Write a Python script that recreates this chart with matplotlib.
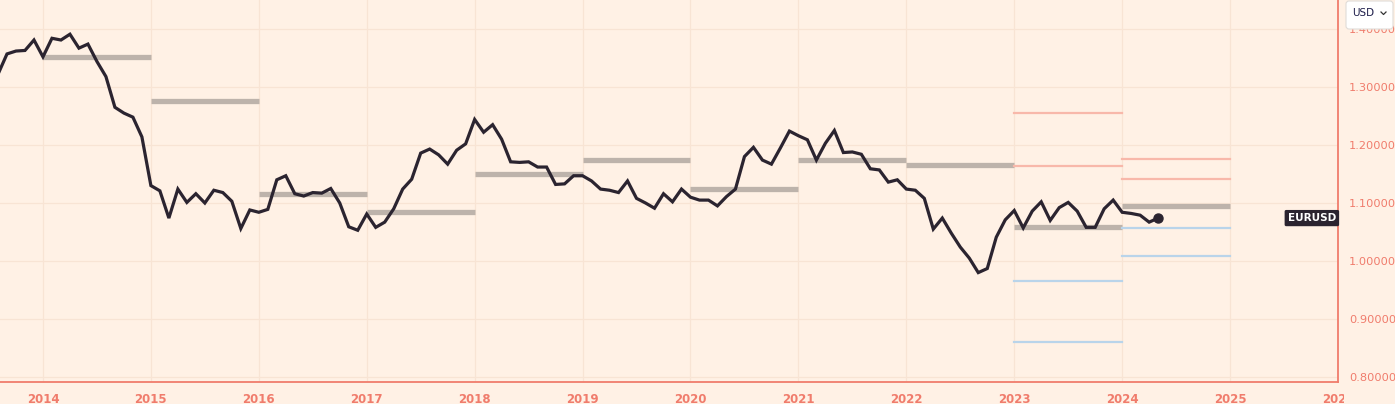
import matplotlib
matplotlib.use("Agg")
from matplotlib import pyplot as plt
from matplotlib.patches import FancyBboxPatch, Rectangle
from matplotlib.lines import Line2D
import numpy as np
import pandas as pd

#monthly EURUSD closes, Aug 2013 .. May 2024
start_month = "2013-08"
closes = [
	1.322, 1.357, 1.362, 1.363, 1.381,
	1.352, 1.384, 1.381, 1.391, 1.367, 1.374, 1.344, 1.318, 1.265, 1.255, 1.248, 1.214,
	1.130, 1.121, 1.074, 1.124, 1.101, 1.116, 1.100, 1.122, 1.118, 1.103, 1.056, 1.088,
	1.084, 1.089, 1.140, 1.147, 1.116, 1.112, 1.118, 1.117, 1.125, 1.100, 1.059, 1.053,
	1.081, 1.058, 1.067, 1.090, 1.124, 1.141, 1.186, 1.193, 1.183, 1.167, 1.191, 1.202,
	1.244, 1.222, 1.235, 1.210, 1.171, 1.170, 1.171, 1.162, 1.162, 1.132, 1.133, 1.147,
	1.147, 1.138, 1.124, 1.122, 1.118, 1.138, 1.108, 1.100, 1.091, 1.116, 1.102, 1.124,
	1.110, 1.105, 1.105, 1.095, 1.111, 1.124, 1.180, 1.196, 1.174, 1.167, 1.195, 1.224,
	1.216, 1.209, 1.174, 1.203, 1.225, 1.187, 1.188, 1.184, 1.159, 1.157, 1.136, 1.140,
	1.124, 1.122, 1.108, 1.055, 1.074, 1.048, 1.024, 1.005, 0.980, 0.987, 1.041, 1.071,
	1.087, 1.057, 1.086, 1.102, 1.070, 1.092, 1.101, 1.086, 1.058, 1.058, 1.090, 1.105,
	1.084, 1.082, 1.079, 1.067, 1.074
]

#yearly open levels (gray bars)
bar_years = [2014, 2015, 2016, 2017, 2018, 2019, 2020, 2021, 2022, 2023, 2024]
bar_levels = [1.352, 1.276, 1.116, 1.084, 1.150, 1.175, 1.124, 1.174, 1.166, 1.058, 1.094]

#upper / lower bands for the last two years
band_years = [2023, 2024]
upper_outer = [1.256, 1.176]
upper_inner = [1.164, 1.141]
lower_inner = [0.966, 1.057]
lower_outer = [0.860, 1.009]

year_ticks = list(range(2014, 2027))
price_ticks = [0.8, 0.9, 1.0, 1.1, 1.2, 1.3, 1.4]

bg = "#fff1e5"
salmon = "#f07c6c"
grid_c = "#f8e4d4"
line_c = "#2b2430"

months = pd.period_range(start_month, periods=len(closes), freq="M")
x = np.array([m.year + (m.month - 1) / 12 for m in months])

fig = plt.figure(figsize=(13.95, 4.04), dpi=100, facecolor=bg)
ax = fig.add_axes([0, 22 / 404, 1338 / 1395, 382 / 404])
ax.set_facecolor(bg)

for yr, lv in zip(bar_years, bar_levels):
	ax.plot([yr, yr + 1], [lv, lv], color="#bdb3ab", lw=3.8, solid_capstyle="butt", zorder=2)
for i, yr in enumerate(band_years):
	for lv in (upper_outer[i], upper_inner[i]):
		ax.plot([yr, yr + 1], [lv, lv], color="#f8b8aa", lw=1.6, zorder=2)
	for lv in (lower_inner[i], lower_outer[i]):
		ax.plot([yr, yr + 1], [lv, lv], color="#b9d4ea", lw=1.6, zorder=2)

ax.plot(x, closes, color=line_c, lw=2.3, zorder=3, solid_joinstyle="miter")
ax.plot(x[-1], closes[-1], "o", color=line_c, ms=6.5, zorder=4)

ax.set_xlim(2014 - 43 / 108, 2014 + 1295 / 108)
ax.set_ylim(0.8 - 5 / 580, 1.3 + 87 / 580)
ax.set_xticks(year_ticks)
ax.set_xticklabels([str(y) for y in year_ticks])
ax.set_yticks(price_ticks)
ax.set_yticklabels(["{:.5f}".format(p) for p in price_ticks])
ax.yaxis.tick_right()
ax.tick_params(axis="both", length=0, colors=salmon)
ax.tick_params(axis="x", pad=8, labelsize=8.5)
ax.tick_params(axis="y", pad=8, labelsize=8.2)
for lab in ax.get_xticklabels():
	lab.set_fontweight("bold")
ax.grid(True, color=grid_c, lw=0.9)
for s in ("top", "left"):
	ax.spines[s].set_visible(False)
for s in ("bottom", "right"):
	ax.spines[s].set_color(salmon)
	ax.spines[s].set_linewidth(1.3)

#the 2026 label is cut off at the axis edge
clip = Rectangle((0, 0), 1344, 404, transform=None)
ax.get_xticklabels()[-1].set_clip_path(clip)

ax.text(0.9985, closes[-1], "EURUSD", transform=ax.get_yaxis_transform(), ha="right", va="center",
		color="white", fontsize=7.5, fontweight="bold", zorder=5,
		bbox=dict(boxstyle="round,pad=0.3,rounding_size=0.15", fc=line_c, ec="none"))

#currency selector, covering most of the top price label
fig.patches.append(FancyBboxPatch((1346, 375), 47, 28, boxstyle="round,pad=0,rounding_size=3",
		transform=None, fc="white", ec="#e0dcd8", lw=0.8, zorder=10))
fig.text(1352 / 1395, 1 - 13 / 404, "USD", color="#1d1d4a", fontsize=7.5, va="center", zorder=11)
fig.lines.append(Line2D([1381, 1383.5, 1386], [392, 389.5, 392], transform=None, color="#333", lw=0.9, zorder=11))

fig.savefig("out.png", dpi=100, facecolor=bg)
